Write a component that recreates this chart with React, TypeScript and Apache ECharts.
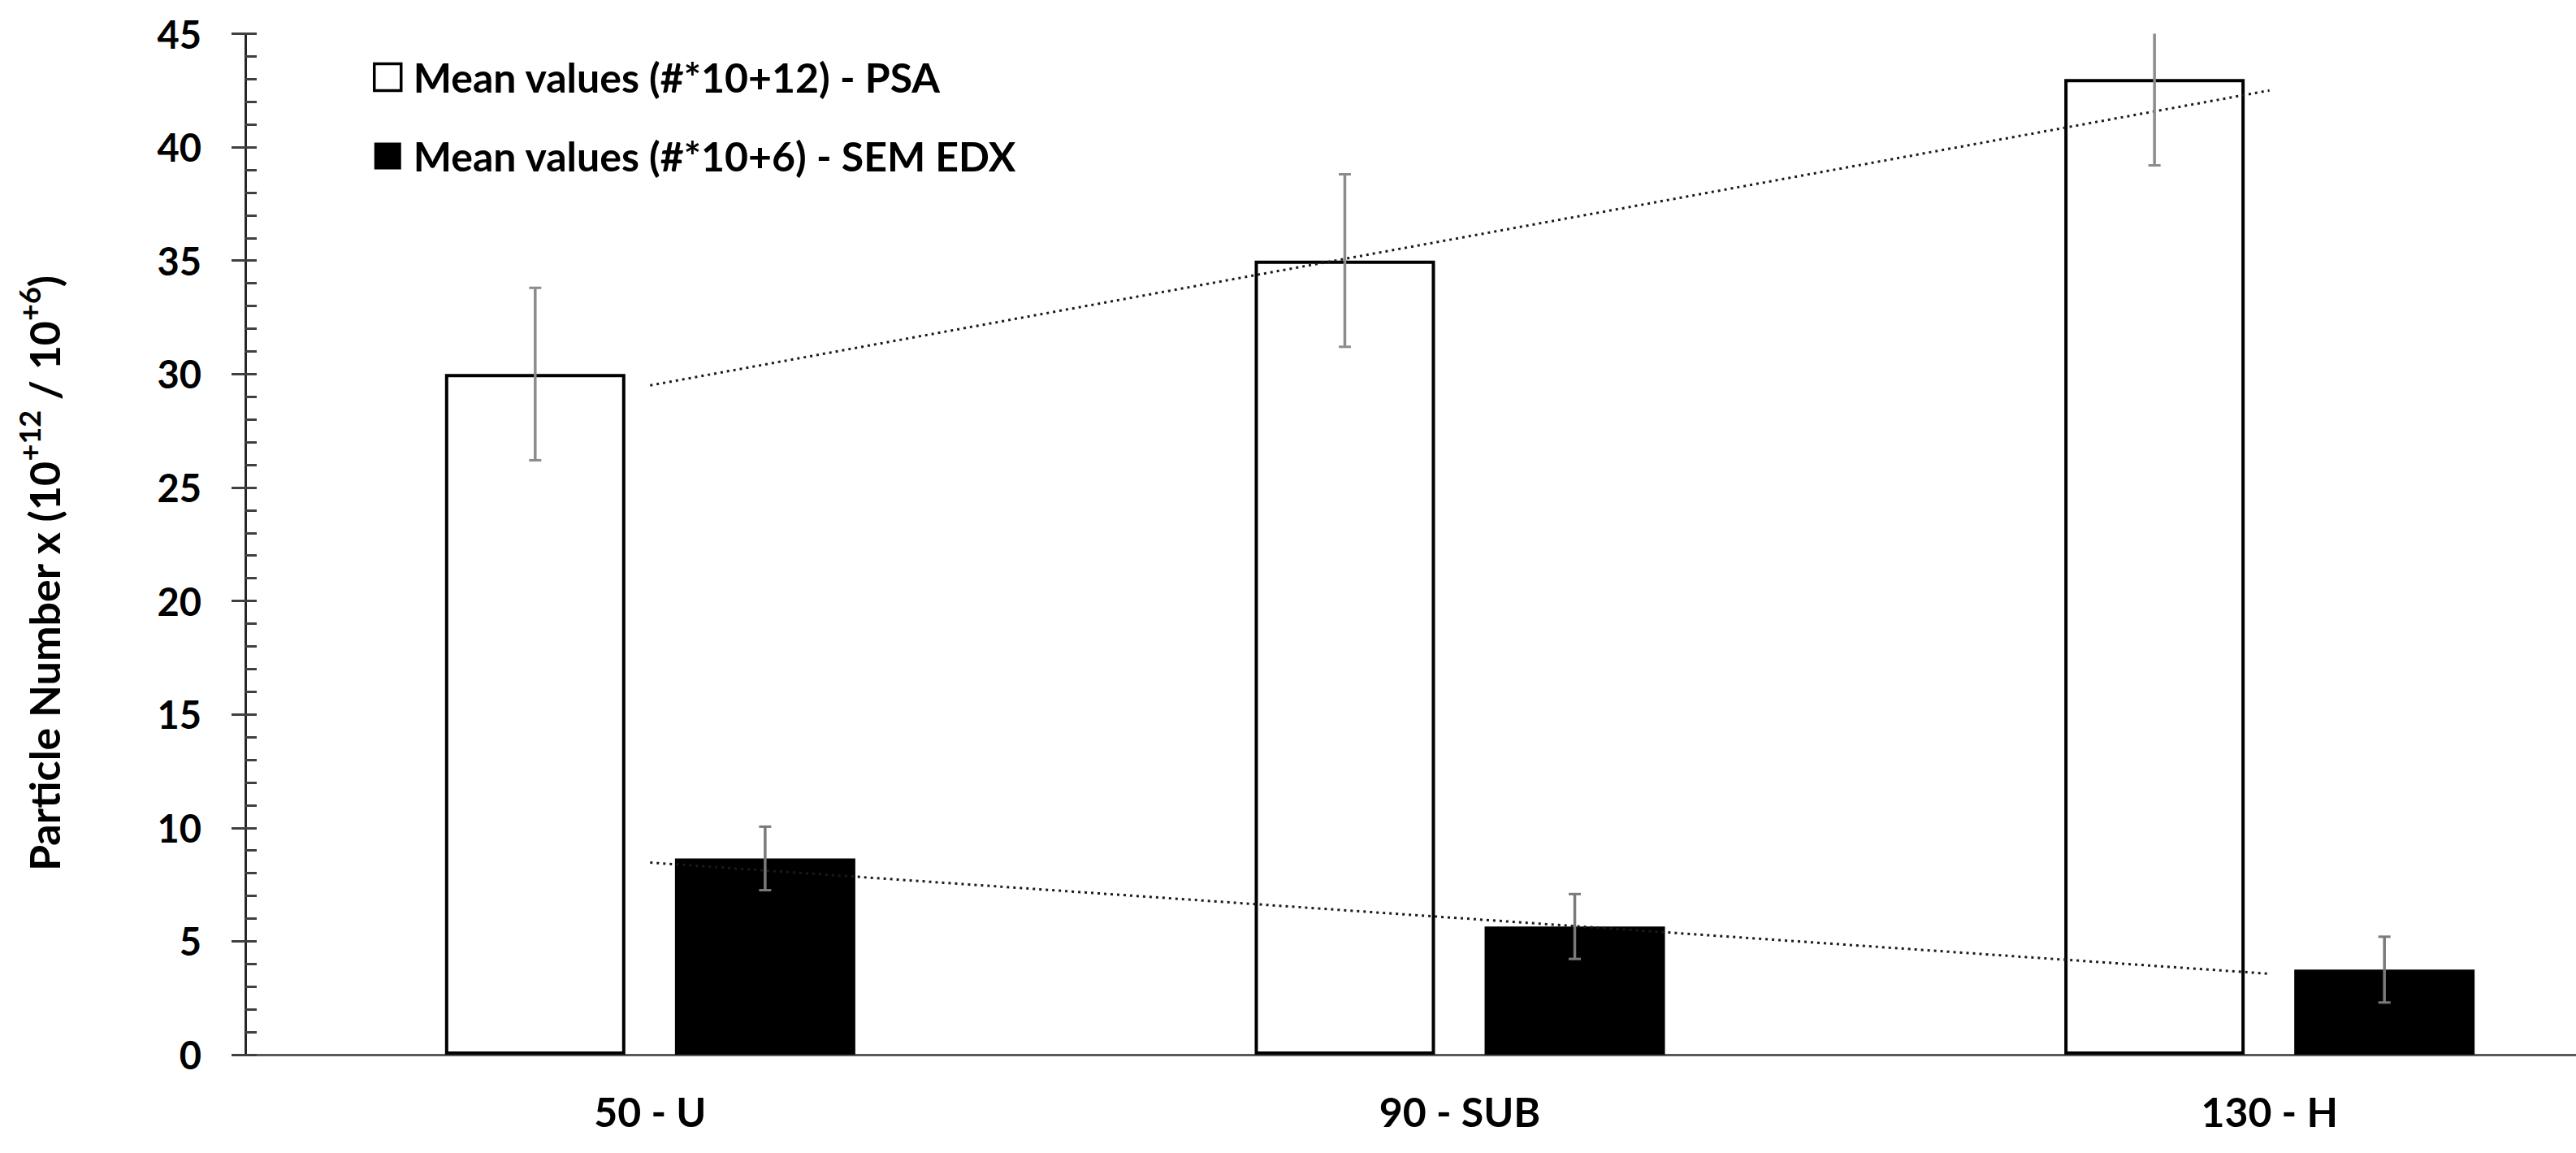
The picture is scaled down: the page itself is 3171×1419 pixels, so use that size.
import React, { useEffect, useRef } from "react";
import * as echarts from "echarts";

const categories = ["50 - U", "90 - SUB", "130 - H"];
const psaMeans = [30, 35, 43];
const psaErrors = [3.8, 3.8, 3.8];
const semMeans = [8.65, 5.65, 3.75];
const semErrors = [1.4, 1.43, 1.45];
const psaName = "Mean values (#*10+12) - PSA";
const semName = "Mean values (#*10+6) - SEM EDX";
const yMin = 0;
const yMax = 45;
const yInterval = 5;

const FONT = "Lato, 'Open Sans', sans-serif";
const BAR_W = 222;
const BAR_GAP = 0.275;
const CANVAS_W = 3300;
const CANVAS_H = 1419;

function linearFit(vals: number[]): number[] {
  const n = vals.length;
  const xs = vals.map((_, i) => i + 1);
  const mx = xs.reduce((a, b) => a + b, 0) / n;
  const my = vals.reduce((a, b) => a + b, 0) / n;
  let sxy = 0;
  let sxx = 0;
  for (let i = 0; i < n; i++) {
    sxy += (xs[i] - mx) * (vals[i] - my);
    sxx += (xs[i] - mx) * (xs[i] - mx);
  }
  const slope = sxy / sxx;
  return xs.map((x) => +(my + slope * (x - mx)).toFixed(4));
}

function errorRenderer(offsetSign: number, color: string) {
  return (params: any, api: any) => {
    const ci = api.value(0);
    const m = api.value(1);
    const e = api.value(2);
    const off = (offsetSign * BAR_W * (1 + BAR_GAP)) / 2;
    const hi = api.coord([ci, m + e]);
    const lo = api.coord([ci, m - e]);
    const x = hi[0] + off;
    const cap = 7.5;
    const style = { stroke: color, lineWidth: 3.5 };
    return {
      type: "group",
      children: [
        { type: "line", shape: { x1: x, y1: hi[1], x2: x, y2: lo[1] }, style },
        { type: "line", shape: { x1: x - cap, y1: hi[1], x2: x + cap, y2: hi[1] }, style: { stroke: color, lineWidth: 3 } },
        { type: "line", shape: { x1: x - cap, y1: lo[1], x2: x + cap, y2: lo[1] }, style: { stroke: color, lineWidth: 3 } },
      ],
    };
  };
}

export default function App() {
  const ref = useRef<HTMLDivElement>(null);
  useEffect(() => {
    if (!ref.current) return;
    const chart = echarts.init(ref.current, null, { renderer: "svg" });
    const psaTrend = linearFit(psaMeans);
    const semTrend = linearFit(semMeans);
    const axisColor = "#262626";
    chart.setOption({
      animation: false,
      backgroundColor: "#ffffff",
      textStyle: { fontFamily: FONT },
      grid: { left: 302, top: 41.5, bottom: 121, width: 2990, containLabel: false },
      legend: {
        orient: "vertical",
        left: 454,
        top: 64,
        itemWidth: 33,
        itemHeight: 33,
        itemGap: 45,
        icon: "rect",
        selectedMode: false,
        textStyle: { fontFamily: FONT, fontWeight: "bold", fontSize: 50, color: "#000", lineHeight: 52, padding: [0, 0, 0, 10] },
        data: [
          { name: psaName, itemStyle: { color: "#ffffff", borderColor: "#000000", borderWidth: 3.5 } },
          { name: semName, itemStyle: { color: "#000000", borderWidth: 0 } },
        ],
      },
      xAxis: {
        type: "category",
        data: categories,
        axisLine: { show: true, lineStyle: { color: "#595959", width: 3 } },
        axisTick: { show: false },
        axisLabel: { fontFamily: FONT, fontWeight: "bold", fontSize: 50, color: "#000", margin: 45 },
        splitLine: { show: false },
      },
      yAxis: [
        {
          type: "value",
          min: yMin,
          max: yMax,
          interval: yInterval,
          position: "left",
          axisLine: { show: true, lineStyle: { color: axisColor, width: 3 } },
          axisTick: { show: true, inside: false, length: 17, lineStyle: { color: "#404040", width: 3 } },
          axisLabel: { fontFamily: FONT, fontWeight: "bold", fontSize: 47, color: "#000", margin: 54 },
          splitLine: { show: false },
          name: "{a|Particle Number x (10}{s|+12}{a| / 10}{s|+6}{a|)}",
          nameLocation: "middle",
          nameRotate: 90,
          nameGap: 222,
          nameTextStyle: {
            padding: [0, 72, 0, 0],
            rich: {
              a: { fontFamily: FONT, fontWeight: "bold", fontSize: 52, color: "#000", lineHeight: 62, verticalAlign: "bottom" },
              s: { fontFamily: FONT, fontWeight: "bold", fontSize: 36, color: "#000", lineHeight: 40, verticalAlign: "top" },
            },
          },
        },
        {
          type: "value",
          min: yMin,
          max: yMax,
          interval: yInterval,
          position: "left",
          offset: 0,
          axisLine: { show: false },
          axisTick: { show: true, inside: true, length: 14, lineStyle: { color: "#404040", width: 3 } },
          minorTick: { show: true, splitNumber: 5, length: 14, lineStyle: { color: "#404040", width: 3 } },
          axisLabel: { show: false },
          splitLine: { show: false },
        },
      ],
      series: [
        {
          name: psaName,
          type: "bar",
          data: psaMeans,
          barWidth: BAR_W,
          barGap: BAR_GAP * 100 + "%",
          itemStyle: { color: "#ffffff", borderColor: "#000000", borderWidth: 4 },
          z: 2,
        },
        {
          name: semName,
          type: "bar",
          data: semMeans,
          barWidth: BAR_W,
          barGap: BAR_GAP * 100 + "%",
          itemStyle: { color: "#000000" },
          z: 2,
        },
        {
          name: "psaTrend",
          type: "line",
          data: psaTrend,
          showSymbol: false,
          symbol: "none",
          lineStyle: { color: "#1a1a1a", width: 3, type: [3, 5] },
          z: 4,
        },
        {
          name: "semTrend",
          type: "line",
          data: semTrend,
          showSymbol: false,
          symbol: "none",
          lineStyle: { color: "#1a1a1a", width: 3, type: [3, 5] },
          z: 4,
        },
        {
          name: "psaErr",
          type: "custom",
          clip: true,
          renderItem: errorRenderer(-1, "#8c8c8c"),
          data: psaMeans.map((m, i) => [i, m, psaErrors[i]]),
          z: 5,
        },
        {
          name: "semErr",
          type: "custom",
          clip: true,
          renderItem: errorRenderer(1, "#7a7a7a"),
          data: semMeans.map((m, i) => [i, m, semErrors[i]]),
          z: 5,
        },
      ],
    });
    return () => chart.dispose();
  }, []);
  return (
    <div
      ref={ref}
      style={{ position: "fixed", left: 0, top: 0, width: CANVAS_W, height: CANVAS_H, background: "#fff" }}
    />
  );
}
